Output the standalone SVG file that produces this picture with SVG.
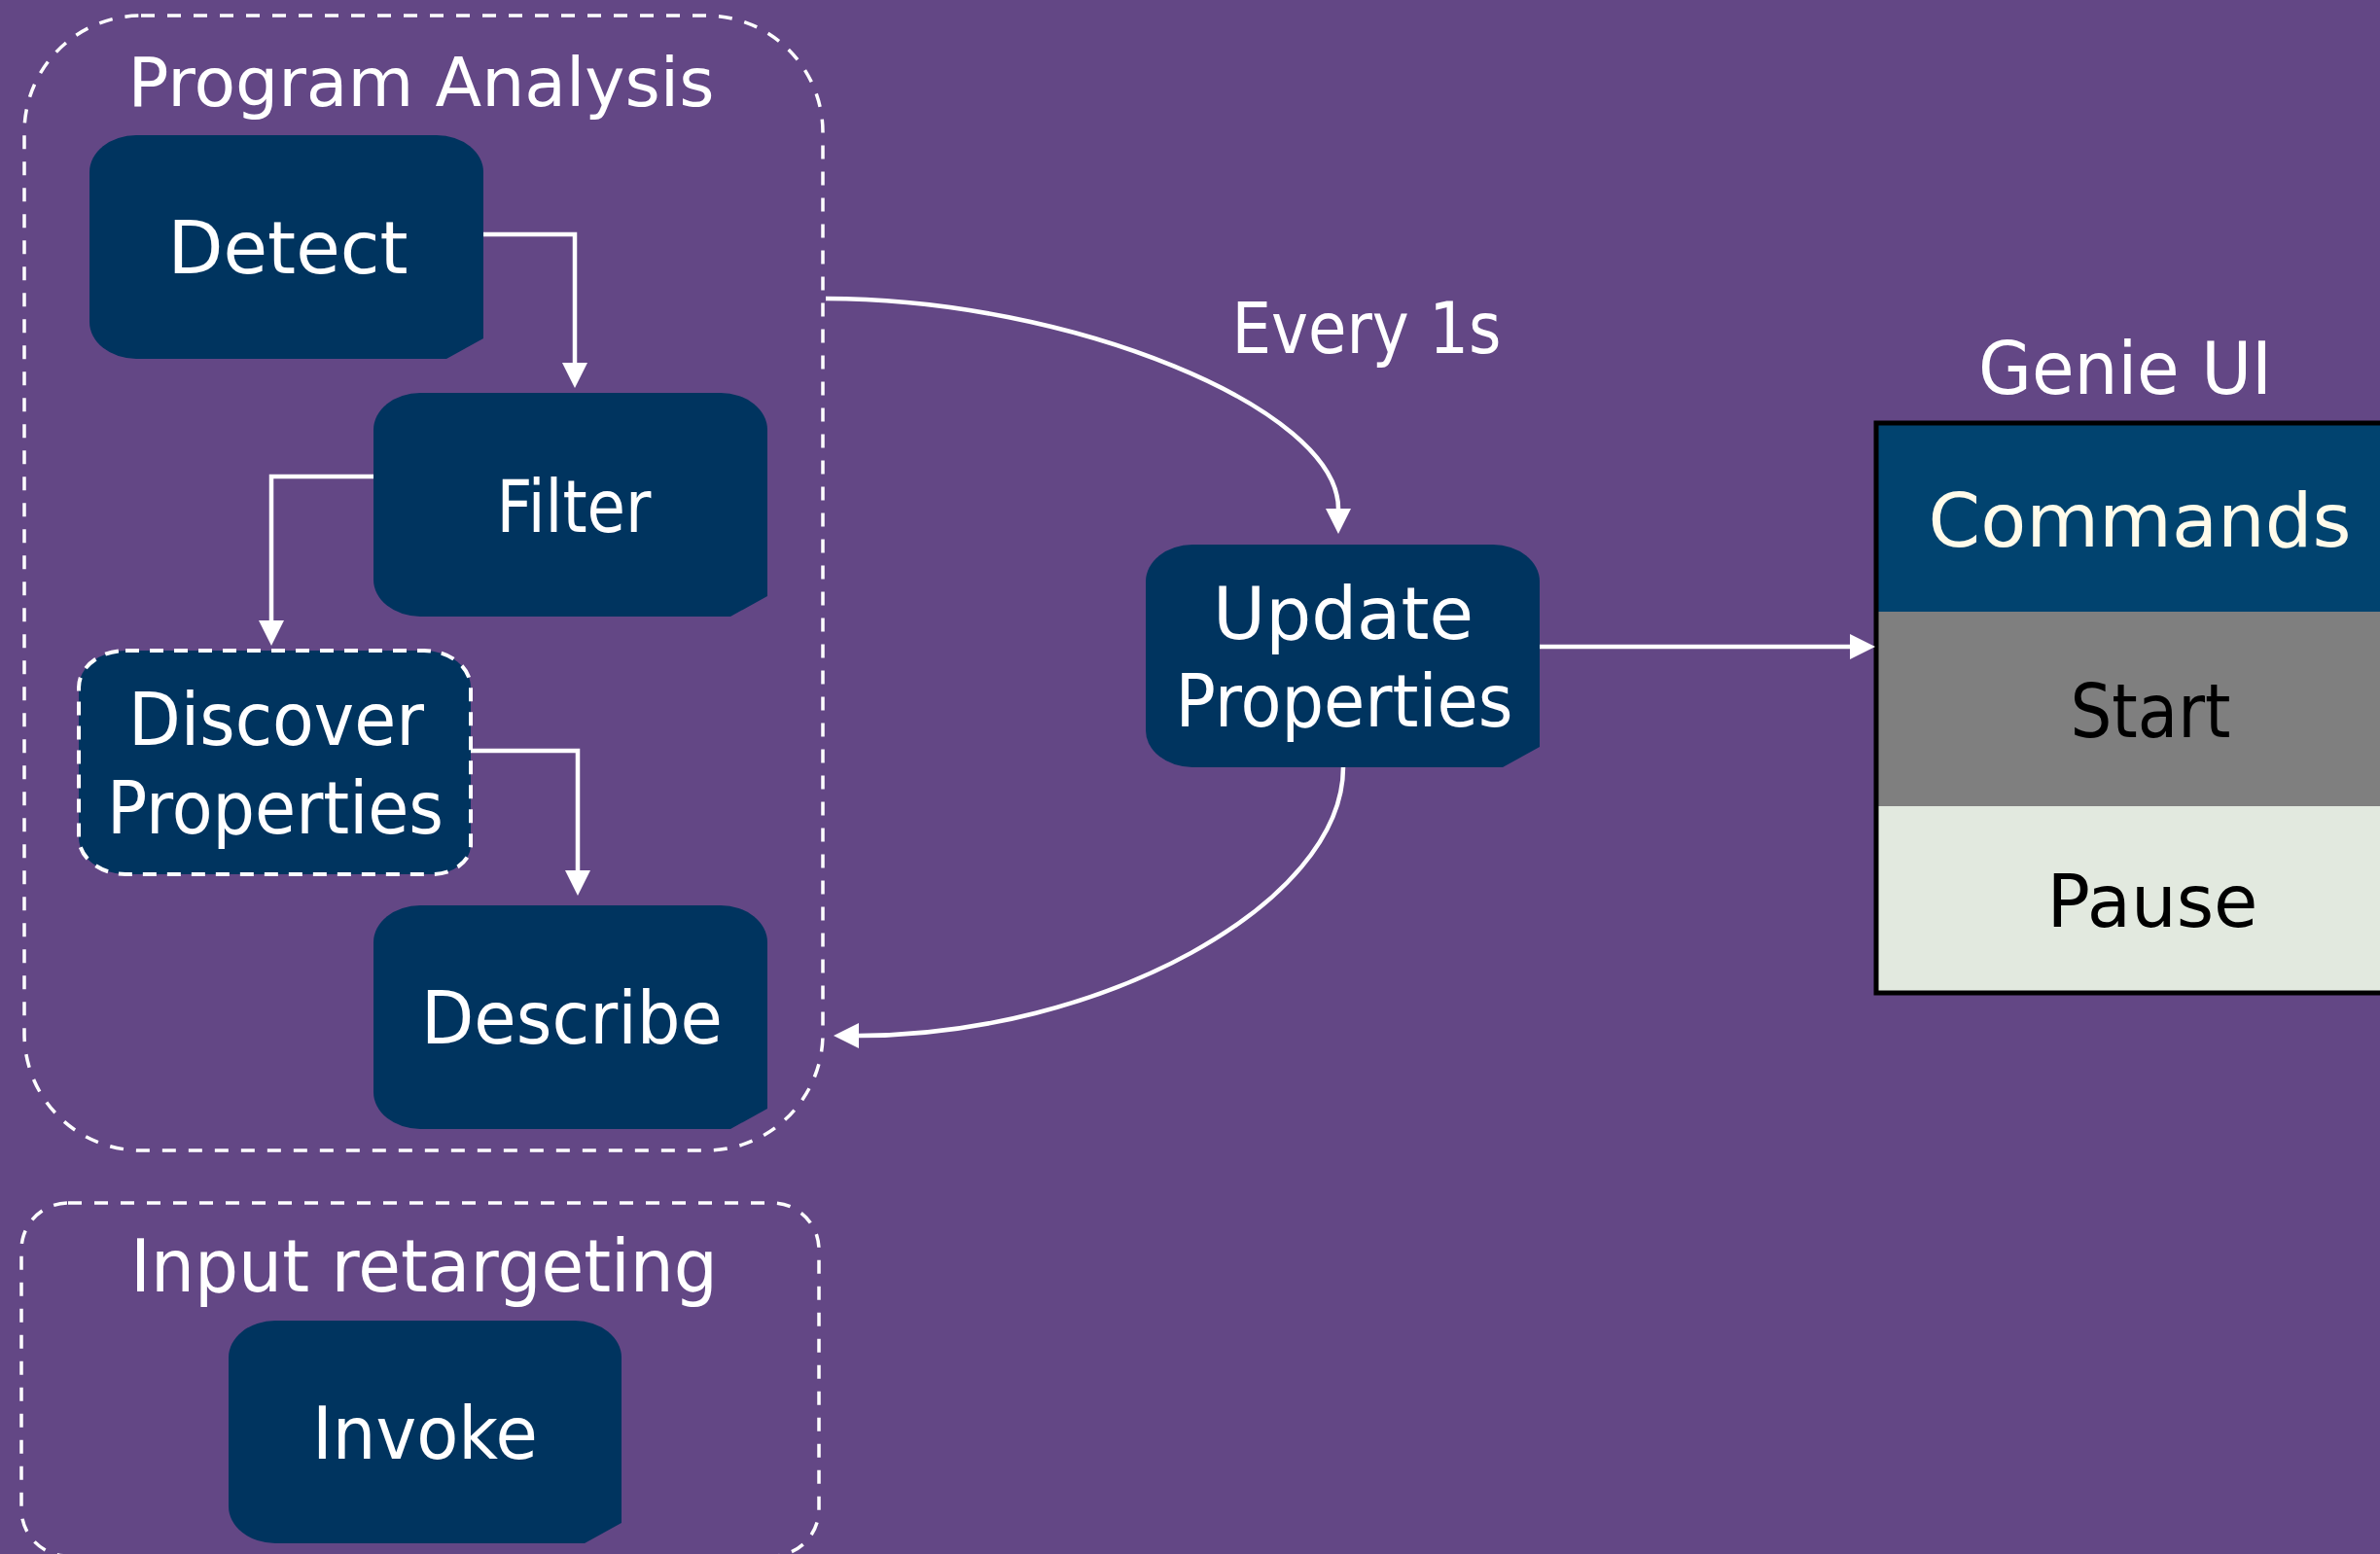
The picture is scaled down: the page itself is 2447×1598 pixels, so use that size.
<svg xmlns="http://www.w3.org/2000/svg" width="2447" height="1598" viewBox="0 0 2447 1598">
<defs>
<style>
.bg{fill:#634785}
.node{fill:#00345f}
.cont{fill:none;stroke:#ffffff;stroke-width:3.5;stroke-dasharray:14 13}
.dnode{fill:#00345f;stroke:#ffffff;stroke-width:4;stroke-dasharray:14 11}
.conn{fill:none;stroke:#ffffff;stroke-width:4.5}
text{font-family:"DejaVu Sans","Liberation Sans",sans-serif;text-anchor:middle}
.w{fill:#ffffff}
.k{fill:#000000}
</style>
<marker id="arr" markerUnits="userSpaceOnUse" markerWidth="26" markerHeight="26" viewBox="0 0 26 26" refX="0" refY="13" orient="auto">
<path d="M0,0 L26,13 L0,26 Z" fill="#ffffff"/>
</marker>
</defs>
<rect class="bg" x="0" y="0" width="2447" height="1598"/>

<g id="program-analysis">
<rect class="cont" x="25" y="16" width="821" height="1167" rx="120" ry="120"/>
<text class="w" x="433" y="109" font-size="70" textLength="603" lengthAdjust="spacingAndGlyphs">Program Analysis</text>
</g>

<g id="input-retargeting">
<rect class="cont" x="22" y="1237" width="820" height="363" rx="48" ry="48"/>
<text class="w" x="436" y="1328" font-size="74" textLength="604" lengthAdjust="spacingAndGlyphs">Input retargeting</text>
</g>

<g id="detect">
<path class="node" d="M140,139 H449 A48,38 0 0 1 497,177 V348 L459,369 H140 A48,38 0 0 1 92,331 V177 A48,38 0 0 1 140,139 Z"/>
<text class="w" x="296" y="281" font-size="74" textLength="247" lengthAdjust="spacingAndGlyphs">Detect</text>
</g>

<g id="filter">
<path class="node" d="M432,404 H741 A48,38 0 0 1 789,442 V613 L751,634 H432 A48,38 0 0 1 384,596 V442 A48,38 0 0 1 432,404 Z"/>
<text class="w" x="590" y="547" font-size="74" textLength="159" lengthAdjust="spacingAndGlyphs">Filter</text>
</g>

<g id="discover-properties">
<path class="dnode" d="M129,669 H436 A48,38 0 0 1 484,707 V870 A40,30 0 0 1 446,899 H129 A48,38 0 0 1 81,861 V707 A48,38 0 0 1 129,669 Z"/>
<text class="w" x="284" y="766" font-size="74" textLength="304" lengthAdjust="spacingAndGlyphs">Discover</text>
<text class="w" x="283" y="857" font-size="74" textLength="346" lengthAdjust="spacingAndGlyphs">Properties</text>
</g>

<g id="describe">
<path class="node" d="M432,931 H741 A48,38 0 0 1 789,969 V1140 L751,1161 H432 A48,38 0 0 1 384,1123 V969 A48,38 0 0 1 432,931 Z"/>
<text class="w" x="588" y="1073" font-size="74" textLength="310" lengthAdjust="spacingAndGlyphs">Describe</text>
</g>

<g id="invoke">
<path class="node" d="M283,1358 H591 A48,38 0 0 1 639,1396 V1566 L601,1587 H283 A48,38 0 0 1 235,1549 V1396 A48,38 0 0 1 283,1358 Z"/>
<text class="w" x="437" y="1500" font-size="74" textLength="232" lengthAdjust="spacingAndGlyphs">Invoke</text>
</g>

<g id="update-properties">
<path class="node" d="M1226,560 H1535 A48,38 0 0 1 1583,598 V768 L1545,789 H1226 A48,38 0 0 1 1178,751 V598 A48,38 0 0 1 1226,560 Z"/>
<text class="w" x="1381" y="657" font-size="74" textLength="268" lengthAdjust="spacingAndGlyphs">Update</text>
<text class="w" x="1382" y="747" font-size="74" textLength="347" lengthAdjust="spacingAndGlyphs">Properties</text>
</g>

<g id="every-label">
<text class="w" x="1405" y="363" font-size="73" textLength="277" lengthAdjust="spacingAndGlyphs">Every 1s</text>
</g>

<g id="genie-ui">
<text class="w" x="2185" y="405" font-size="74" textLength="302" lengthAdjust="spacingAndGlyphs">Genie UI</text>
<rect x="1929" y="435" width="540" height="194" fill="#01436f"/>
<rect x="1929" y="629" width="540" height="200" fill="#7f7f7f"/>
<rect x="1929" y="829" width="540" height="192" fill="#e2e9df"/>
<rect x="1929" y="435" width="540" height="586" fill="none" stroke="#000000" stroke-width="5"/>
<text x="2200" y="562" font-size="77" fill="#fffbea" textLength="435" lengthAdjust="spacingAndGlyphs">Commands</text>
<text class="k" x="2211" y="758" font-size="77" textLength="165" lengthAdjust="spacingAndGlyphs">Start</text>
<text class="k" x="2213" y="953" font-size="74" textLength="217" lengthAdjust="spacingAndGlyphs">Pause</text>
</g>

<g id="connectors">
<path class="conn" d="M497,241 H591 V373" marker-end="url(#arr)"/>
<path class="conn" d="M384,490 H279 V638" marker-end="url(#arr)"/>
<path class="conn" d="M484,772 H594 V895" marker-end="url(#arr)"/>
<path class="conn" d="M849,307 C1100,307 1376,420 1376,523" marker-end="url(#arr)"/>
<path class="conn" d="M1381,789 C1381,930 1130,1065 883,1065" marker-end="url(#arr)"/>
<path class="conn" d="M1583,665 H1902" marker-end="url(#arr)"/>
</g>
</svg>
